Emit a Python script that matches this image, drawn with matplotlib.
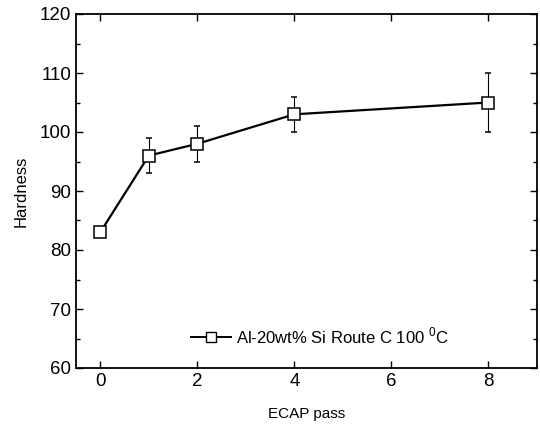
import matplotlib
matplotlib.use("Agg")
import matplotlib.pyplot as plt
from matplotlib.ticker import MultipleLocator
from matplotlib.lines import Line2D

plt.rcParams['font.family'] = ['Liberation Sans', 'DejaVu Sans']

passes = [0, 1, 2, 4, 8]
hardness = [83, 96, 98, 103, 105]
err_low = [0, 3, 3, 3, 5]
err_high = [0, 3, 3, 3, 5]
label = r'Al-20wt% Si Route C 100 $^{\mathregular{0}}$C'

fig = plt.figure(figsize=(5.4, 4.26), dpi=100)
ax = fig.add_axes([76/540, 1-368/426, (537-76)/540, (368-14)/426])

ax.errorbar(passes, hardness, yerr=[err_low, err_high], color='black', lw=1.6,
            marker='s', markersize=9, markerfacecolor='white', markeredgecolor='black',
            markeredgewidth=1.1, ecolor='black', elinewidth=0.8, capsize=2.5, capthick=0.8)

ax.set_xlim(-0.5, 9)
ax.set_ylim(60, 120)
ax.xaxis.set_major_locator(MultipleLocator(2))
ax.yaxis.set_major_locator(MultipleLocator(10))
ax.yaxis.set_minor_locator(MultipleLocator(5))
ax.tick_params(which='both', direction='in', top=True, right=True, labelsize=13.5)
ax.tick_params(which='major', length=5, width=1)
ax.tick_params(which='minor', length=3, width=1)
ax.tick_params(axis='x', which='minor', bottom=False, top=False)
for s in ax.spines.values():
    s.set_linewidth(1.3)

ax.set_xlabel('ECAP pass', fontsize=11, labelpad=12)
ax.set_ylabel('Hardness', fontsize=12, labelpad=8)

handle = Line2D([], [], color='black', lw=1.4, marker='s', markersize=6.5,
                markerfacecolor='white', markeredgecolor='black', markeredgewidth=1.0)
ax.legend([handle], [label], loc='lower center', bbox_to_anchor=(0.53, 0.02),
          frameon=False, fontsize=12, handlelength=2.4, handletextpad=0.3)

fig.savefig('out.png', dpi=100)
